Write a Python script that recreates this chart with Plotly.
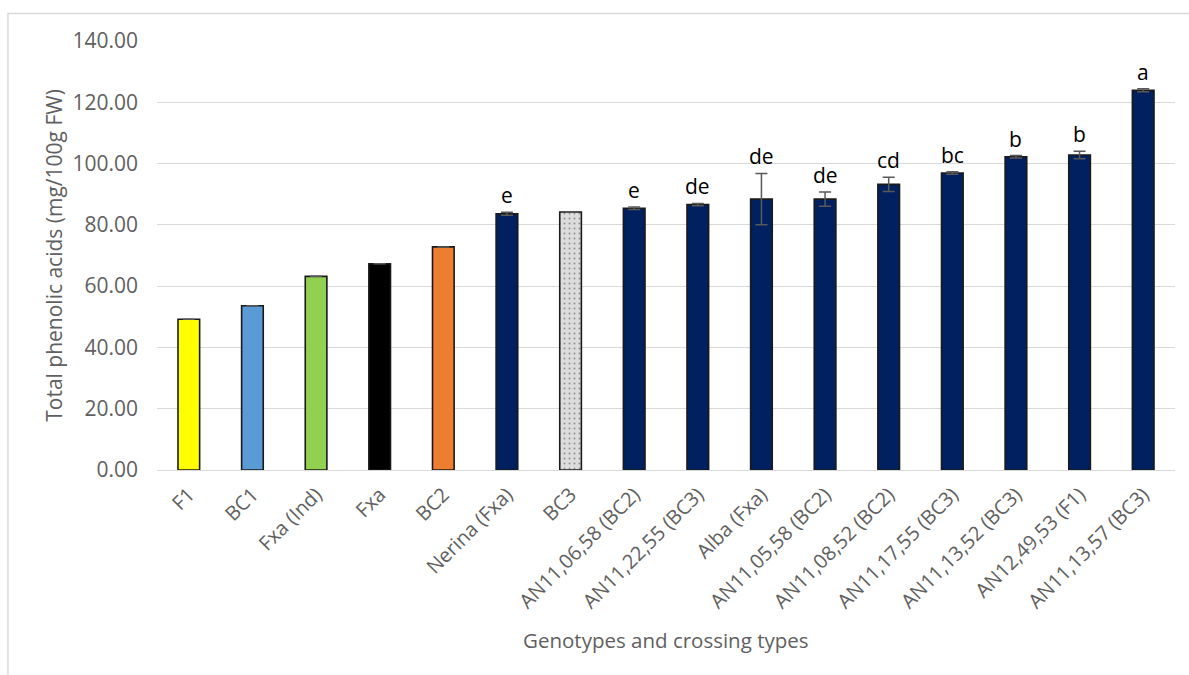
import plotly.graph_objects as go

# Genotypes / crossing types and their total phenolic acid content
genotypes = [
    "F1", "BC1", "Fxa (Ind)", "Fxa", "BC2", "Nerina (Fxa)", "BC3",
    "AN11,06,58 (BC2)", "AN11,22,55 (BC3)", "Alba (Fxa)", "AN11,05,58 (BC2)",
    "AN11,08,52 (BC2)", "AN11,17,55 (BC3)", "AN11,13,52 (BC3)",
    "AN12,49,53 (F1)", "AN11,13,57 (BC3)",
]
phenolics = [49.2, 53.6, 63.2, 67.3, 72.8, 83.6, 84.2, 85.4, 86.6, 88.4,
             88.4, 93.2, 96.9, 102.2, 102.8, 123.9]
std_err = [0, 0, 0, 0, 0, 0.5, 0, 0.4, 0.4, 8.4, 2.3, 2.3, 0.4, 0.4, 1.2, 0.5]
letters = ["", "", "", "", "", "e", "", "e", "de", "de", "de", "cd", "bc",
           "b", "b", "a"]
bar_colors = ["#FFFF00", "#5B9BD5", "#92D050", "#000000", "#ED7D31",
              "#002060", "#DCDCDC"] + ["#002060"] * 9
y_ticks = [0, 20, 40, 60, 80, 100, 120, 140]

FONT = "'Open Sans', sans-serif"
GREY = "#606060"

# dotted texture only on the BC3 bar
pattern_shapes = ["." if g == "BC3" else "" for g in genotypes]

fig = go.Figure()
fig.add_trace(go.Bar(
    x=genotypes,
    y=phenolics,
    width=0.34,
    marker=dict(
        color=bar_colors,
        line=dict(color="#1a1a1a", width=1.6),
        pattern=dict(shape=pattern_shapes, fgcolor="#C6C6C6",
                     bgcolor="#DCDCDC", size=5, solidity=0.12),
    ),
    error_y=dict(
        type="data",
        array=[e if e > 0 else None for e in std_err],
        color="#595959",
        thickness=1.5,
        width=6,
    ),
    hoverinfo="x+y",
))

# significance letters above each bar (on top of the error bar)
for g, v, e, t in zip(genotypes, phenolics, std_err, letters):
    if t:
        fig.add_annotation(
            x=g, y=v + e, text=t, showarrow=False,
            yanchor="bottom", yshift=1,
            font=dict(family=FONT, size=21, color="#000000"),
        )

# x-axis title, set below the slanted category labels
fig.add_annotation(
    xref="paper", yref="paper", x=0.5, y=-0.397,
    xanchor="center", yanchor="middle", showarrow=False,
    text="Genotypes and crossing types",
    font=dict(family=FONT, size=20.5, color=GREY),
)

# chart-area frame (left and top edges)
fig.add_shape(
    type="path", xref="paper", yref="paper",
    path="M -0.1464,-0.48 L -0.1464,1.064 L 1.02,1.064",
    line=dict(color="#D9D9D9", width=1.5),
)

fig.update_layout(
    width=1189, height=675,
    margin=dict(l=157, r=14, t=41, b=205, autoexpand=False),
    paper_bgcolor="white", plot_bgcolor="white",
    showlegend=False,
    bargap=0.66,
    font=dict(family=FONT, color=GREY),
    xaxis=dict(
        tickangle=-45,
        tickfont=dict(size=20, color=GREY),
        showline=False, showgrid=False, ticks="",
        ticklabelstandoff=8,
        automargin=False,
    ),
    yaxis=dict(
        range=[0, 140],
        tickvals=y_ticks,
        tickformat=".2f",
        tickfont=dict(size=21, color=GREY),
        gridcolor="#D9D9D9", gridwidth=1,
        zeroline=True, zerolinecolor="#D9D9D9", zerolinewidth=1,
        showline=False, ticks="",
        ticklabelstandoff=18,
        title=dict(text="Total phenolic acids (mg/100g FW)",
                   font=dict(size=21, color=GREY), standoff=4),
        automargin=False,
    ),
)

fig.write_html("out.html")
